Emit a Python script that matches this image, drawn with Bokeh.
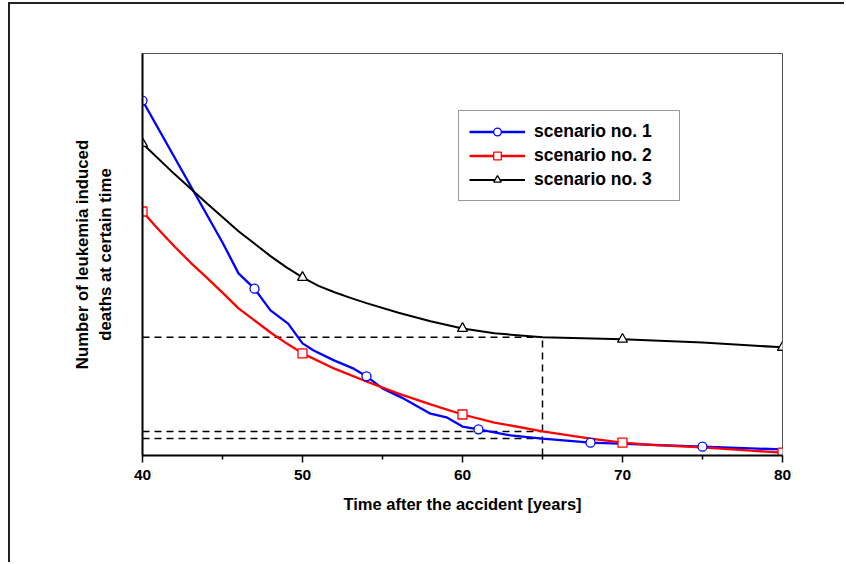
from bokeh.plotting import figure
from bokeh.models import Range1d, FixedTicker, Legend, LegendItem
from bokeh.embed import file_html
from bokeh.resources import INLINE

# ---------------- data ----------------
x_ticks = [40, 50, 60, 70, 80]
x_minor = [45, 55, 65, 75]

# scenario no. 1 (blue, circles)
s1_x = [40, 45, 46, 47, 48, 49.1, 50, 50.7, 52, 53.2, 54, 55, 56.2, 58, 59, 60, 61, 63, 65, 68, 75, 80]
s1_y = [88.3, 53.0, 45.3, 41.5, 36.1, 32.8, 27.9, 26.1, 23.6, 21.6, 19.7, 16.7, 14.4, 10.4, 9.5, 7.2, 6.5, 5.0, 4.2, 3.2, 2.2, 1.5]
s1_mx = [40, 47, 54, 61, 68, 75]
s1_my = [88.3, 41.5, 19.7, 6.5, 3.2, 2.2]

# scenario no. 2 (red, squares)
s2_x = [40, 41, 42, 43, 44, 45, 46, 47, 48, 49, 50, 52, 54, 56, 58, 60, 62, 65, 68, 70, 72, 75, 78, 80]
s2_y = [60.7, 56.2, 52.0, 48.0, 44.3, 40.5, 36.6, 33.6, 30.6, 27.9, 25.4, 21.6, 18.4, 15.4, 12.7, 10.2, 8.2, 6.0, 4.2, 3.2, 2.6, 2.0, 1.2, 0.7]
s2_mx = [40, 50, 60, 70, 80]
s2_my = [60.7, 25.4, 10.2, 3.2, 0.7]

# scenario no. 3 (black, triangles)
s3_x = [40, 42, 44, 46, 48, 49, 50, 51, 52, 53, 54, 56, 58, 60, 62, 65, 70, 75, 80]
s3_y = [77.6, 70.0, 62.8, 55.8, 49.6, 46.8, 44.3, 42.2, 40.6, 39.2, 37.9, 35.5, 33.4, 31.6, 30.4, 29.4, 28.9, 28.1, 26.9]
s3_mx = [40, 50, 60, 70, 80]
s3_my = [77.6, 44.3, 31.6, 28.9, 26.9]

# dashed read-off lines at year 65
ref_year = 65
ref_values = [29.4, 6.0, 4.2]

labels = ["scenario no. 1", "scenario no. 2", "scenario no. 3"]

# ---------------- figure ----------------
FONT = "Liberation Sans"

p = figure(width=836, height=560, output_backend="svg", toolbar_location=None,
           x_range=Range1d(40, 80), y_range=Range1d(0, 100),
           min_border_left=132, min_border_right=64, min_border_top=49, min_border_bottom=109)
p.styles = {"margin-left": "8px", "margin-top": "2px",
            "border-left": "2px solid #222", "border-top": "2px solid #222"}
p.grid.visible = False
p.outline_line_color = "#555555"
p.outline_line_width = 1
p.background_fill_color = "white"
p.border_fill_color = "white"

xa = p.xaxis[0]
xa.ticker = FixedTicker(ticks=x_ticks, minor_ticks=x_minor)
xa.axis_line_width = 2
xa.axis_line_color = "black"
xa.major_tick_in = 0
xa.major_tick_out = 7
xa.major_tick_line_width = 1.5
xa.minor_tick_in = 0
xa.minor_tick_out = 4
xa.minor_tick_line_width = 1.5
xa.major_label_text_font = FONT
xa.major_label_text_font_style = "bold"
xa.major_label_text_font_size = "15.5px"
xa.major_label_text_color = "black"
xa.major_label_standoff = 7
xa.axis_label = "Time after the accident [years]"
xa.axis_label_text_font = FONT
xa.axis_label_text_font_style = "bold"
xa.axis_label_text_font_size = "16.5px"
xa.axis_label_text_color = "black"
xa.axis_label_standoff = 12

ya = p.yaxis[0]
ya.ticker = FixedTicker(ticks=[])
ya.axis_line_width = 2
ya.axis_line_color = "black"
ya.major_tick_line_color = None
ya.minor_tick_line_color = None
ya.axis_label = "Number of leukemia induced\ndeaths at certain time"
ya.axis_label_text_font = FONT
ya.axis_label_text_font_style = "bold"
ya.axis_label_text_font_size = "16.8px"
ya.axis_label_text_color = "black"
ya.axis_label_standoff = 28

# dashed read-off lines
p.segment(x0=[40] * len(ref_values), y0=ref_values, x1=[ref_year] * len(ref_values), y1=ref_values,
          line_color="black", line_width=1.5, line_dash="7 5")
p.segment(x0=[ref_year], y0=[0], x1=[ref_year], y1=[max(ref_values)],
          line_color="black", line_width=1.5, line_dash="7 5")

# curves
r1 = p.line(s1_x, s1_y, line_color="#0000FF", line_width=2.3)
r2 = p.line(s2_x, s2_y, line_color="#FF0000", line_width=2.3)
r3 = p.line(s3_x, s3_y, line_color="black", line_width=2.0)

m1 = p.scatter(s1_mx, s1_my, marker="circle", size=9, fill_color="white",
               line_color="#0000FF", line_width=1.3)
m2 = p.scatter(s2_mx, s2_my, marker="square", size=9, fill_color="white",
               line_color="#FF0000", line_width=1.3)
m3 = p.scatter(s3_mx, s3_my, marker="triangle", size=10, fill_color="white",
               line_color="black", line_width=1.3)

legend = Legend(items=[LegendItem(label=labels[0], renderers=[r1, m1]),
                       LegendItem(label=labels[1], renderers=[r2, m2]),
                       LegendItem(label=labels[2], renderers=[r3, m3])],
                location=(316, 254))
legend.padding = 10
legend.spacing = 3
legend.margin = 0
legend.glyph_height = 19
legend.glyph_width = 56
legend.label_height = 19
legend.label_standoff = 9
legend.label_width = 135
legend.border_line_color = "#333333"
legend.border_line_width = 1
legend.background_fill_color = "white"
legend.background_fill_alpha = 1
legend.label_text_font = FONT
legend.label_text_font_style = "bold"
legend.label_text_font_size = "17.5px"
legend.label_text_color = "black"
p.add_layout(legend, "center")

open("out.html", "w").write(file_html(p, INLINE))
